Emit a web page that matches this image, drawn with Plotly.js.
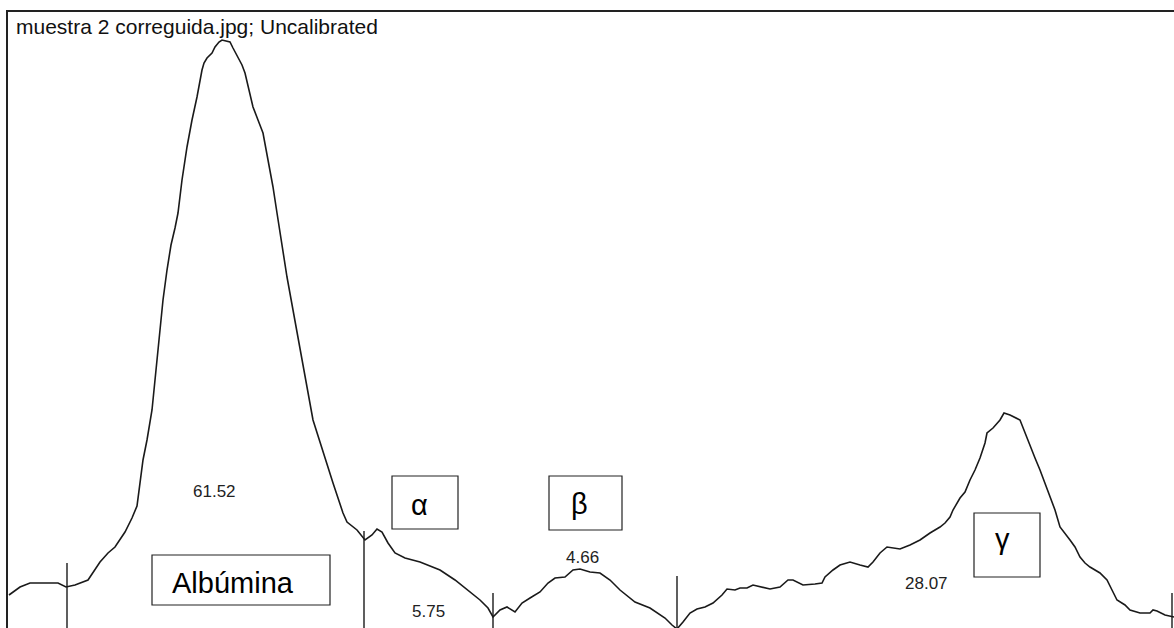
<!DOCTYPE html>
<html>
<head>
<meta charset="utf-8">
<script src="https://cdn.plot.ly/plotly-3.0.1.min.js"></script>
<style>
  html, body { margin: 0; padding: 0; background: #fff; }
  #plot { width: 1174px; height: 628px; }
</style>
</head>
<body>
<div id="plot"></div>
<script>
// Densitometry profile of the electrophoresis lane (position along lane, density)
const lanePosition = [
  9, 20, 30, 45, 58, 66, 75, 88, 93, 100, 108, 115, 125, 132, 137, 140, 143, 147, 150, 152,
  154, 155, 158, 160, 163, 167, 171, 175, 178, 182, 187, 192, 197, 202, 204, 207, 212, 215, 219, 222,
  226, 230, 233, 238, 242, 245, 248, 253, 258, 263, 268, 273, 277, 280, 287, 293, 300, 307, 313, 317,
  323, 333, 343, 347, 357, 365, 372, 377, 382, 388, 395, 405, 420, 440, 455, 470, 480, 488, 493, 500,
  507, 515, 522, 530, 540, 548, 555, 565, 573, 580, 590, 600, 610, 620, 635, 650, 665, 672, 677, 683,
  690, 697, 705, 713, 722, 727, 735, 740, 747, 753, 763, 770, 780, 788, 793, 803, 815, 822, 825, 833,
  840, 850, 860, 868, 873, 880, 887, 900, 910, 920, 930, 940, 945, 950, 953, 960, 965, 970, 975, 980,
  985, 987, 993, 1000, 1004, 1010, 1020, 1025, 1030, 1035, 1040, 1045, 1050, 1055, 1060, 1065, 1070, 1075, 1080, 1085,
  1090, 1100, 1107, 1112, 1117, 1125, 1130, 1140, 1150, 1153, 1157, 1165, 1174
];
const laneDensity = [
  33, 41, 45, 45, 45, 41, 43, 48, 56, 66, 75, 81, 96, 110, 122, 148, 168, 188, 208, 218,
  238, 248, 278, 298, 328, 358, 383, 400, 415, 448, 481, 508, 531, 558, 565, 570, 575, 581, 586, 588,
  587, 586, 580, 570, 563, 555, 541, 521, 508, 495, 468, 441, 415, 395, 351, 318, 281, 241, 208, 195,
  178, 145, 115, 106, 98, 88, 93, 99, 96, 85, 75, 70, 66, 58, 48, 36, 28, 20, 11, 18,
  21, 16, 25, 30, 36, 45, 50, 51, 58, 59, 56, 55, 48, 38, 26, 20, 10, 3, -1, 6,
  15, 19, 21, 25, 33, 39, 38, 40, 40, 43, 41, 39, 41, 48, 48, 43, 44, 45, 51, 58,
  63, 66, 63, 61, 66, 75, 81, 79, 83, 88, 95, 101, 105, 111, 118, 130, 136, 148, 158, 170,
  185, 195, 200, 208, 215, 213, 208, 195, 181, 170, 158, 145, 131, 118, 101, 95, 88, 81, 71, 65,
  61, 55, 48, 38, 28, 23, 18, 15, 15, 18, 17, 13, 11
];

// Fraction boundaries (position, marker top)
const boundaryPosition = [67, 364, 493, 677, 1172];
const boundaryTop = [65, 97, 35, 52, 35];

// Integrated fraction percentages and where they are printed
const fractionPercent = ['61.52', '5.75', '4.66', '28.07'];
const percentX = [214, 428, 582, 926];
const percentY = [137, 17, 71, 45];

// Fraction names in boxes
const fractionNames = ['Albúmina', 'α', 'β', 'γ'];
const nameX = [232.5, 419.5, 579, 1002.5];
const nameY = [45, 123, 124, 89];
const boxX0 = [152, 392, 549, 974];
const boxX1 = [330, 458, 622, 1040];
const boxY0 = [23, 99, 98, 51];
const boxY1 = [73, 152, 152, 115];

const FONT = 'Liberation Sans, Arial, sans-serif';
const INK = '#1a1a1a';

// boundary markers as one broken line
const bx = [], by = [];
boundaryPosition.forEach((p, i) => {
  bx.push(p, p, null);
  by.push(-20, boundaryTop[i], null);
});

const traces = [
  {
    x: lanePosition, y: laneDensity, type: 'scatter', mode: 'lines',
    line: { color: INK, width: 1.6 }, hoverinfo: 'skip'
  },
  {
    x: bx, y: by, type: 'scatter', mode: 'lines',
    line: { color: INK, width: 1.4 }, hoverinfo: 'skip'
  }
];

const annotations = [];
fractionPercent.forEach((t, i) => annotations.push({
  x: percentX[i], y: percentY[i], xref: 'x', yref: 'y', text: t, showarrow: false,
  xanchor: 'center', yanchor: 'middle', font: { family: FONT, size: 17, color: '#222' }
}));
fractionNames.forEach((t, i) => annotations.push({
  x: nameX[i], y: nameY[i], xref: 'x', yref: 'y', text: t, showarrow: false,
  xanchor: 'center', yanchor: 'middle', font: { family: FONT, size: 29, color: '#000' }
}));

const shapes = fractionNames.map((t, i) => ({
  type: 'rect', xref: 'x', yref: 'y',
  x0: boxX0[i], x1: boxX1[i], y0: boxY0[i], y1: boxY1[i],
  line: { color: '#222', width: 1.2 }, fillcolor: 'rgba(0,0,0,0)'
}));

const layout = {
  width: 1174, height: 628,
  margin: { l: 8, r: 0, t: 12, b: 0, pad: 0 },
  paper_bgcolor: '#fff', plot_bgcolor: '#fff',
  showlegend: false,
  title: {
    text: 'muestra 2 correguida.jpg; Uncalibrated',
    font: { family: FONT, size: 21, color: '#111' },
    xref: 'container', yref: 'container',
    x: 16 / 1174, xanchor: 'left',
    y: 1 - 27 / 628, yanchor: 'middle'
  },
  xaxis: {
    range: [8, 1174], side: 'top', showline: true, linecolor: '#222', linewidth: 2,
    showgrid: false, zeroline: false, showticklabels: false, ticks: '', fixedrange: true
  },
  yaxis: {
    range: [0, 616], showline: true, linecolor: '#222', linewidth: 2,
    showgrid: false, zeroline: false, showticklabels: false, ticks: '', fixedrange: true
  },
  annotations: annotations,
  shapes: shapes
};

Plotly.newPlot('plot', traces, layout, { staticPlot: true, displayModeBar: false });
</script>
</body>
</html>
